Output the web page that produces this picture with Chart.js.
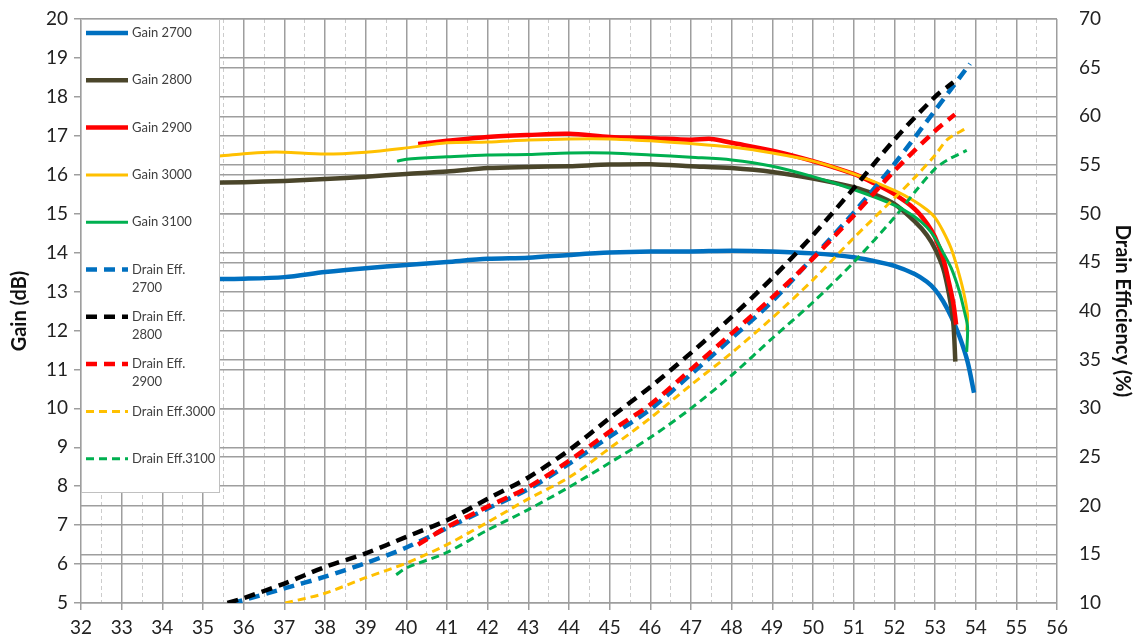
<!DOCTYPE html>
<html>
<head>
<meta charset="utf-8">
<script src="https://cdn.jsdelivr.net/npm/chart.js@4.4.1/dist/chart.umd.min.js"></script>
<style>
  html, body { margin: 0; padding: 0; background: #fff; }
</style>
</head>
<body>
<canvas id="chart" width="1140" height="643"></canvas>
<script>
// Pout (dBm) on x, gain (dB) on left axis, drain efficiency (%) on right axis
const gain2700X = [32, 33, 34, 35, 36, 37, 38, 39, 40, 41, 42, 43, 44, 45, 46, 47, 48, 49, 50, 51, 51.5, 52, 52.5, 52.8, 53, 53.2, 53.4, 53.6, 53.8, 53.96];
const gain2700  = [13.3, 13.3, 13.3, 13.32, 13.33, 13.37, 13.5, 13.6, 13.68, 13.76, 13.84, 13.87, 13.94, 14.0, 14.03, 14.03, 14.05, 14.03, 13.98, 13.88, 13.78, 13.66, 13.45, 13.25, 13.05, 12.75, 12.35, 11.85, 11.2, 10.4];

const gain2800X = [32, 33, 34, 35, 36, 37, 38, 39, 40, 41, 42, 43, 44, 45, 46, 47, 48, 49, 50, 51, 51.5, 52, 52.5, 52.8, 53, 53.2, 53.35, 53.45, 53.5];
const gain2800  = [15.75, 15.77, 15.78, 15.79, 15.81, 15.84, 15.89, 15.95, 16.02, 16.08, 16.17, 16.2, 16.22, 16.26, 16.27, 16.22, 16.17, 16.07, 15.9, 15.68, 15.5, 15.25, 14.8, 14.45, 14.1, 13.6, 12.9, 12.2, 11.2];

const gain2900X = [40.29, 41, 42, 43, 44, 45, 46, 47, 47.5, 48, 49, 50, 51, 51.5, 52, 52.5, 52.8, 53, 53.2, 53.35, 53.45, 53.52];
const gain2900  = [16.79, 16.87, 16.97, 17.02, 17.05, 16.97, 16.94, 16.9, 16.92, 16.82, 16.62, 16.35, 16.02, 15.78, 15.5, 15.12, 14.75, 14.4, 13.85, 13.2, 12.7, 12.15];

const gain3000X = [32, 33, 34, 35, 35.4, 36, 36.6, 37, 38, 39, 40, 41, 42, 43, 44, 45, 46, 47, 48, 49, 50, 51, 52, 52.5, 52.8, 53, 53.2, 53.4, 53.55, 53.7, 53.8, 53.78];
const gain3000  = [16.45, 16.45, 16.46, 16.47, 16.48, 16.54, 16.58, 16.58, 16.53, 16.58, 16.69, 16.82, 16.84, 16.89, 16.92, 16.92, 16.87, 16.8, 16.71, 16.56, 16.35, 16.02, 15.6, 15.32, 15.1, 14.9, 14.55, 14.1, 13.6, 13.0, 12.4, 12.0];

const gain3100X = [39.77, 40, 41, 42, 43, 44, 45, 46, 47, 48, 49, 50, 51, 52, 52.5, 52.8, 53, 53.2, 53.4, 53.6, 53.72, 53.8, 53.78];
const gain3100  = [16.35, 16.4, 16.46, 16.51, 16.52, 16.56, 16.56, 16.51, 16.45, 16.38, 16.22, 15.95, 15.62, 15.22, 14.92, 14.65, 14.38, 14.0, 13.6, 13.0, 12.5, 12.1, 11.45];

const eff2700X = [35.7, 36, 37, 38, 39, 40, 41, 42, 43, 44, 45, 46, 47, 48, 49, 50, 51, 52, 53, 53.86];
const eff2700  = [10, 10.3, 11.5, 12.7, 14.1, 15.7, 17.7, 19.7, 21.7, 24.3, 27.1, 29.9, 33.5, 37.2, 41.0, 45.5, 50.1, 55.1, 60.6, 65.4];

const eff2800X = [35.6, 36, 37, 38, 39, 40, 41, 42, 43, 44, 45, 46, 47, 48, 49, 50, 51, 52, 53, 53.45];
const eff2800  = [10, 10.5, 12.0, 13.7, 15.1, 16.8, 18.5, 20.7, 22.9, 25.7, 29.0, 32.2, 35.7, 39.4, 43.4, 47.8, 52.6, 57.6, 62.0, 63.5];

const eff2900X = [40.29, 41, 42, 43, 44, 45, 46, 47, 48, 49, 50, 51, 52, 53, 53.49];
const eff2900  = [16.0, 17.8, 19.9, 21.9, 24.6, 27.6, 30.4, 34.0, 37.7, 41.4, 45.4, 49.8, 54.4, 58.5, 60.2];

const eff3000X = [37.02, 38, 39, 40, 41, 42, 43, 44, 45, 46, 47, 48, 49, 50, 51, 52, 52.5, 53, 53.3, 53.78];
const eff3000  = [10, 11.0, 12.6, 14.1, 16.0, 18.3, 20.7, 22.9, 25.9, 29.0, 32.4, 35.7, 39.3, 43.2, 47.5, 51.6, 53.7, 56.0, 57.6, 58.8];

const eff3100X = [39.75, 40, 41, 42, 43, 44, 45, 46, 47, 48, 49, 50, 51, 52, 52.5, 53, 53.3, 53.78];
const eff3100  = [12.9, 13.6, 15.2, 17.5, 19.6, 21.9, 24.4, 27.0, 30.0, 33.4, 37.2, 40.9, 45.0, 49.6, 52.2, 54.6, 55.5, 56.5];

const legendLabels = ['Gain 2700', 'Gain 2800', 'Gain 2900', 'Gain 3000', 'Gain 3100',
  ['Drain Eff.', '2700'], ['Drain Eff.', '2800'], ['Drain Eff.', '2900'], 'Drain Eff.3000', 'Drain Eff.3100'];

const FONT = 'Lato, "Open Sans", sans-serif';

function pts(xs, ys) {
  return xs.map((x, i) => ({ x: x, y: ys[i] }));
}

function series(label, xs, ys, color, width, dash, axis) {
  return {
    label: label, data: pts(xs, ys), yAxisID: axis,
    borderColor: color, backgroundColor: color, borderWidth: width,
    borderDash: dash, pointRadius: 0, tension: 0.3, fill: false
  };
}

const datasets = [
  series('Gain 2700', gain2700X, gain2700, '#0070C0', 4.5, [], 'y'),
  series('Gain 2800', gain2800X, gain2800, '#4A452A', 4.5, [], 'y'),
  series('Gain 2900', gain2900X, gain2900, '#FF0000', 4.5, [], 'y'),
  series('Gain 3000', gain3000X, gain3000, '#FFC000', 3, [], 'y'),
  series('Gain 3100', gain3100X, gain3100, '#00B050', 3, [], 'y'),
  series('Drain Eff. 2700', eff2700X, eff2700, '#0070C0', 4.5, [11, 7], 'y2'),
  series('Drain Eff. 2800', eff2800X, eff2800, '#000000', 4.5, [11, 7], 'y2'),
  series('Drain Eff. 2900', eff2900X, eff2900, '#FF0000', 4.5, [11, 7], 'y2'),
  series('Drain Eff.3000', eff3000X, eff3000, '#FFC000', 3, [8, 5], 'y2'),
  series('Drain Eff.3100', eff3100X, eff3100, '#00B050', 3, [8, 5], 'y2')
];
// later series on top, like the original
datasets.forEach((d, i) => d.order = datasets.length - i);

const isInt = c => c.tick && Number.isInteger(c.tick.value);

// fixed axis box sizes so the plot area sits where the original one does
function fitVertical(width) {
  return s => { s.width = width; s.paddingTop = 0; s.paddingBottom = 0; };
}

// legend box drawn inside the plot, top-left
const boxLegend = {
  id: 'boxLegend',
  afterDatasetsDraw(chart) {
    const ctx = chart.ctx;
    const a = chart.chartArea;
    const w = 138, h = 473;
    ctx.save();
    ctx.fillStyle = '#fff';
    ctx.fillRect(a.left, a.top, w, h);
    ctx.strokeStyle = '#c0c0c0';
    ctx.lineWidth = 1;
    ctx.strokeRect(a.left + 0.5, a.top + 0.5, w, h);
    ctx.font = '13px ' + FONT;
    ctx.textBaseline = 'middle';
    ctx.fillStyle = '#404040';
    chart.data.datasets.forEach((d, i) => {
      const y = a.top + 14 + i * 47.3;
      ctx.beginPath();
      ctx.strokeStyle = d.borderColor;
      ctx.lineWidth = d.borderWidth;
      ctx.setLineDash(d.borderDash);
      ctx.moveTo(a.left + 5, y);
      ctx.lineTo(a.left + 47, y);
      ctx.stroke();
      ctx.setLineDash([]);
      const lines = [].concat(legendLabels[i]);
      lines.forEach((t, k) => ctx.fillText(t, a.left + 51, y + k * 18));
    });
    ctx.restore();
  }
};

new Chart(document.getElementById('chart'), {
  type: 'line',
  data: { datasets: datasets },
  plugins: [boxLegend],
  options: {
    responsive: false,
    animation: false,
    layout: { padding: { top: 19, left: 0, right: 0, bottom: 0 } },
    plugins: { legend: { display: false }, tooltip: { enabled: false } },
    scales: {
      x: {
        type: 'linear', min: 32, max: 56,
        afterFit: s => { s.height = 40; s.paddingLeft = 0; s.paddingRight = 0; },
        ticks: {
          stepSize: 0.5, autoSkip: false, maxRotation: 0, padding: 6,
          color: '#222', font: { family: FONT, size: 19 },
          callback: v => Number.isInteger(v) ? v : ''
        },
        grid: {
          color: c => isInt(c) ? '#9e9e9e' : '#cccccc',
          lineWidth: c => isInt(c) ? 1.5 : 1,
          tickColor: c => isInt(c) ? '#9e9e9e' : 'rgba(0,0,0,0)',
          tickLength: 7
        },
        border: { display: false, dash: c => isInt(c) ? [] : [4, 3] }
      },
      y: {
        type: 'linear', position: 'left', min: 5, max: 20,
        afterFit: fitVertical(81),
        ticks: { stepSize: 1, padding: 6, color: '#222', font: { family: FONT, size: 19 } },
        grid: { color: '#9e9e9e', lineWidth: 1.5, tickLength: 7 },
        border: { display: false },
        title: { display: true, text: 'Gain (dB)', color: '#111', padding: { top: 8 },
                 font: { family: FONT, size: 20, weight: 'bold' } }
      },
      y2: {
        type: 'linear', position: 'right', min: 10, max: 70,
        afterFit: fitVertical(83),
        ticks: { stepSize: 5, padding: 22, color: '#222', font: { family: FONT, size: 19 } },
        grid: { color: '#9e9e9e', lineWidth: 1.5, drawTicks: false },
        border: { display: false },
        title: { display: true, text: 'Drain Efficiency (%)', color: '#111', padding: { top: 6 },
                 font: { family: FONT, size: 20, weight: 'bold' } }
      }
    }
  }
});
</script>
</body>
</html>
